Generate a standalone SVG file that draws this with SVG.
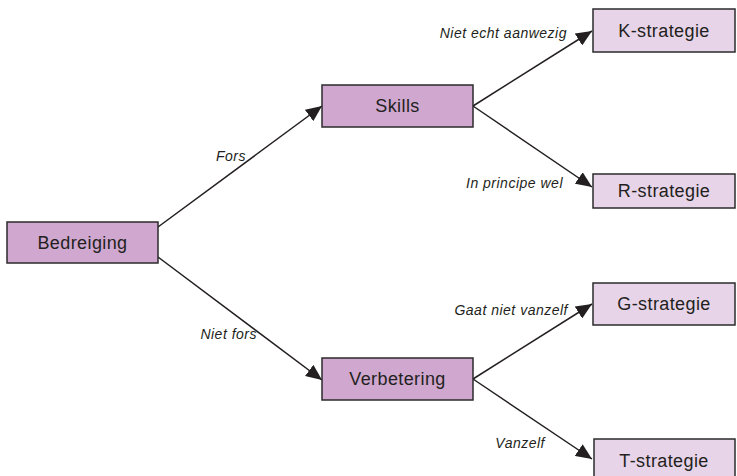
<svg xmlns="http://www.w3.org/2000/svg" width="737" height="476" viewBox="0 0 737 476">
<style>
.main{fill:#cfa7cf;stroke:#2b2b2b;stroke-width:1.5}
.sub{fill:#e7d4e8;stroke:#2b2b2b;stroke-width:1.5}
.t{font-family:"Liberation Sans",Arial,sans-serif;font-size:18px;letter-spacing:0.4px;fill:#231f20;text-anchor:middle}
.l{font-family:"Liberation Sans",Arial,sans-serif;font-size:14px;letter-spacing:0.5px;font-style:italic;fill:#231f20;text-anchor:end}
.c{stroke:#231f20;stroke-width:1.5;fill:none}
</style>
<defs>
<marker id="ah" viewBox="0 0 16 14" refX="16" refY="7" markerWidth="16" markerHeight="14" markerUnits="userSpaceOnUse" orient="auto">
<path d="M0,0 L16,7 L0,14 z" fill="#231f20"/>
</marker>
</defs>
<g id="connectors">
<line class="c" x1="158" y1="227" x2="322" y2="106" marker-end="url(#ah)"/>
<line class="c" x1="158" y1="257" x2="322" y2="380" marker-end="url(#ah)"/>
<line class="c" x1="473" y1="106" x2="592" y2="31" marker-end="url(#ah)"/>
<line class="c" x1="473" y1="106" x2="592" y2="187" marker-end="url(#ah)"/>
<line class="c" x1="473" y1="379" x2="592" y2="304" marker-end="url(#ah)"/>
<line class="c" x1="473" y1="379" x2="592" y2="459" marker-end="url(#ah)"/>
<text class="l" x="246" y="161">Fors</text>
<text class="l" x="257" y="339">Niet fors</text>
<text class="l" x="567" y="38">Niet echt aanwezig</text>
<text class="l" x="563" y="188">In principe wel</text>
<text class="l" x="568" y="315">Gaat niet vanzelf</text>
<text class="l" x="545" y="448">Vanzelf</text>
</g>
<g id="bedreiging"><rect class="main" x="7" y="222" width="151" height="41"/><text class="t" x="82.5" y="249">Bedreiging</text></g>
<g id="skills"><rect class="main" x="322" y="85" width="151" height="42"/><text class="t" x="397.5" y="112">Skills</text></g>
<g id="verbetering"><rect class="main" x="322" y="358" width="151" height="42"/><text class="t" x="397.5" y="385">Verbetering</text></g>
<g id="k"><rect class="sub" x="593" y="9" width="142" height="43"/><text class="t" x="664" y="37">K-strategie</text></g>
<g id="r"><rect class="sub" x="593" y="174" width="142" height="34"/><text class="t" x="664" y="197">R-strategie</text></g>
<g id="g"><rect class="sub" x="593" y="283" width="142" height="42"/><text class="t" x="664" y="310">G-strategie</text></g>
<g id="tt"><rect class="sub" x="594" y="439" width="141" height="40"/><text class="t" x="664" y="467">T-strategie</text></g>
</svg>
